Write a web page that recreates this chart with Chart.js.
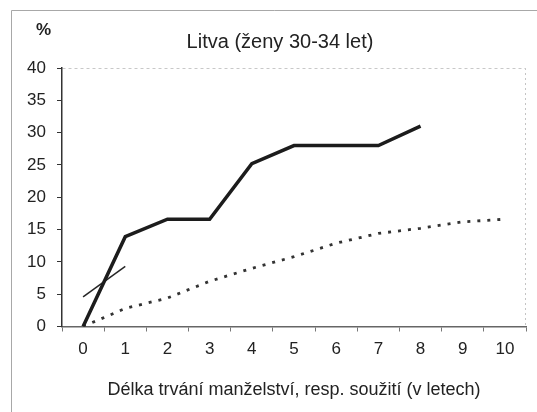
<!DOCTYPE html>
<html>
<head>
<meta charset="utf-8">
<script src="https://cdn.jsdelivr.net/npm/chart.js@4/dist/chart.umd.min.js"></script>
<style>
html,body{margin:0;padding:0;background:#fff;}
#wrap{width:537px;height:412px;position:relative;}
</style>
</head>
<body>
<div id="wrap"><canvas id="c" width="537" height="412"></canvas></div>
<script>
const categories = ['0','1','2','3','4','5','6','7','8','9','10'];
const solidSeries = [0, 13.9, 16.6, 16.6, 25.2, 28.0, 28.0, 28.0, 31.0, null, null];
const thinSeries = [4.6, 9.3, null, null, null, null, null, null, null, null, null];
const dottedSeries = [0, 2.8, 4.4, 7.0, 9.0, 10.8, 12.9, 14.4, 15.2, 16.2, 16.6];
const yTicks = [0, 5, 10, 15, 20, 25, 30, 35, 40];
const titleText = 'Litva (ženy 30-34 let)';
const yUnitText = '%';
const xTitleText = 'Délka trvání manželství, resp. soužití (v letech)';

const FONT = "'Liberation Sans', Arial, sans-serif";

const decor = {
  id: 'decor',
  beforeDraw(chart) {
    const ctx = chart.ctx;
    ctx.save();
    ctx.fillStyle = '#fff';
    ctx.fillRect(0, 0, chart.width, chart.height);
    ctx.strokeStyle = '#a8a8a8';
    ctx.lineWidth = 1;
    ctx.beginPath();
    ctx.moveTo(11.5, 412); ctx.lineTo(11.5, 10.5); ctx.lineTo(537, 10.5);
    ctx.stroke();
    const a = chart.chartArea;
    ctx.strokeStyle = '#c4c4c4';
    ctx.setLineDash([2, 3]);
    ctx.beginPath();
    ctx.moveTo(Math.round(a.right) - 0.5, a.top); ctx.lineTo(Math.round(a.right) - 0.5, a.bottom);
    ctx.stroke();
    ctx.restore();
  },
  afterDraw(chart) {
    const ctx = chart.ctx;
    ctx.save();
    ctx.fillStyle = '#222';
    ctx.textAlign = 'center';
    ctx.textBaseline = 'alphabetic';
    ctx.font = '20px ' + FONT;
    ctx.fillText(titleText, 280, 48);
    ctx.font = 'bold 17px ' + FONT;
    ctx.fillText(yUnitText, 43.5, 35);
    ctx.restore();
  }
};

new Chart(document.getElementById('c'), {
  type: 'line',
  data: {
    labels: categories,
    datasets: [
      { data: solidSeries, borderColor: '#1c1c1c', borderWidth: 3.5, pointRadius: 0, tension: 0, spanGaps: false, borderJoinStyle: 'miter' },
      { data: thinSeries, borderColor: '#262626', borderWidth: 1.5, pointRadius: 0, tension: 0 },
      { data: dottedSeries, borderColor: '#333', borderWidth: 2.8, borderDash: [3, 7], pointRadius: 0, tension: 0 }
    ]
  },
  options: {
    responsive: false,
    animation: false,
    devicePixelRatio: 1,
    layout: { padding: { top: 68, right: 11, bottom: 0, left: 0 } },
    plugins: { legend: { display: false }, title: { display: false }, tooltip: { enabled: false } },
    scales: {
      x: {
        type: 'category',
        offset: true,
        grid: { offset: true, drawOnChartArea: false, tickLength: 5, tickColor: '#777', tickWidth: 1 },
        border: { color: '#666', width: 1.5 },
        ticks: { color: '#222', font: { family: FONT, size: 17 }, padding: 8, maxRotation: 0, autoSkip: false },
        title: { display: true, text: xTitleText, color: '#222', font: { family: FONT, size: 18 }, padding: { top: 0, bottom: 11 } },
        afterFit(s) { s.height = 85.5; }
      },
      y: {
        min: 0, max: 40,
        afterBuildTicks(s) { s.ticks = yTicks.map(v => ({ value: v })); },
        grid: {
          color: c => (c.tick && c.tick.value === 40) ? '#c8c8c8' : 'rgba(0,0,0,0)',
          tickColor: '#333', tickLength: 5, tickWidth: 1
        },
        border: { color: '#333', width: 1.5, dash: [3, 3] },
        ticks: { color: '#222', font: { family: FONT, size: 17 }, padding: 11 },
        afterFit(s) { s.width = 62; }
      }
    }
  },
  plugins: [decor]
});
</script>
</body>
</html>
